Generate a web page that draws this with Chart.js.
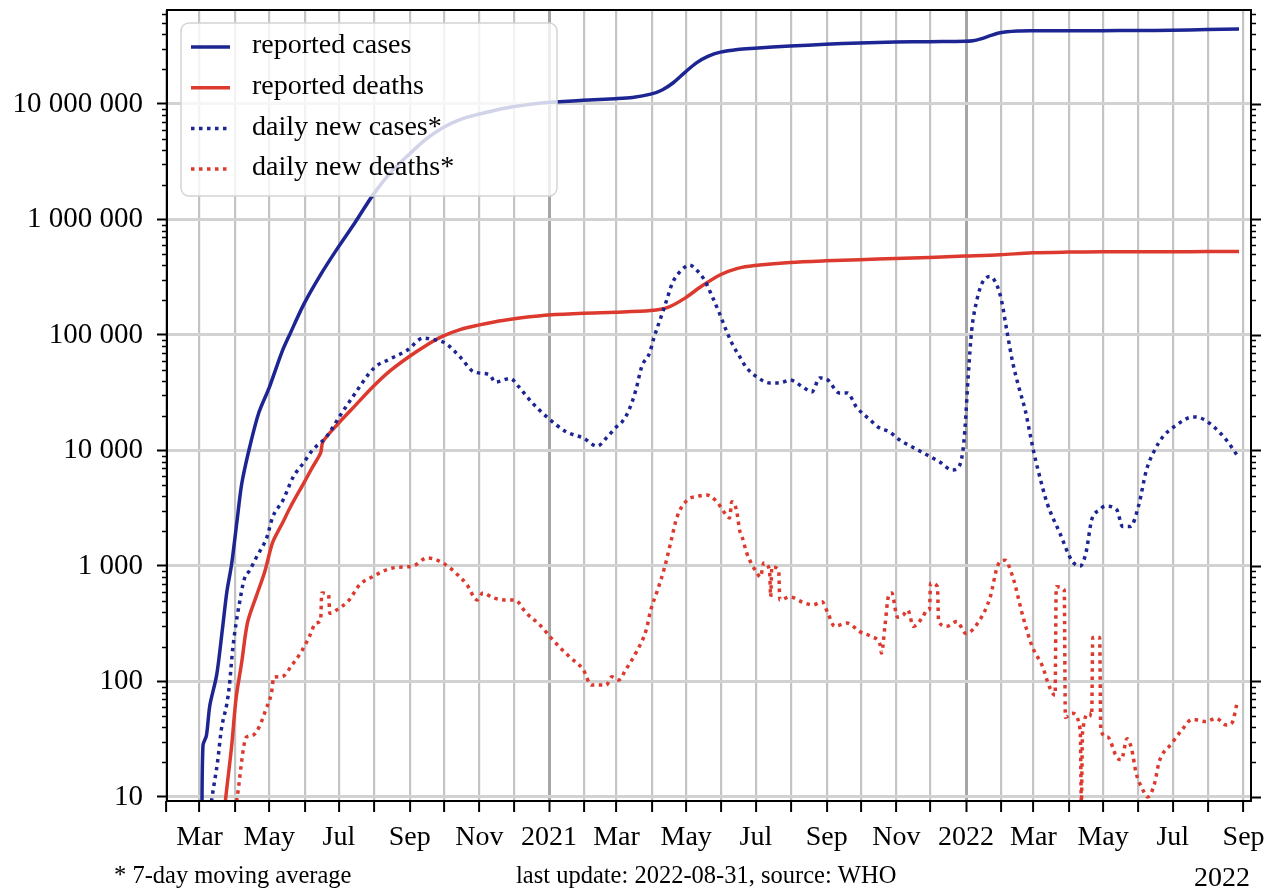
<!DOCTYPE html>
<html>
<head>
<meta charset="utf-8">
<script src="https://cdn.jsdelivr.net/npm/chart.js@4.4.0/dist/chart.umd.min.js"></script>
<style>
  html, body { margin: 0; padding: 0; background: #fff; }
  #chart { display: block; }
</style>
</head>
<body>
<canvas id="chart" width="1278" height="894"></canvas>
<script>
'use strict';
// reported cases (cumulative)
var casesDates = ['2020-03-03', '2020-03-04', '2020-03-07', '2020-03-10', '2020-03-16', '2020-03-21', '2020-03-25',
    '2020-03-29', '2020-04-03', '2020-04-07', '2020-04-14', '2020-04-22', '2020-05-01', '2020-05-12', '2020-05-19',
    '2020-05-31', '2020-06-15', '2020-06-30', '2020-07-15', '2020-07-31', '2020-08-15', '2020-08-31', '2020-09-15',
    '2020-09-30', '2020-10-15', '2020-10-31', '2020-11-15', '2020-11-30', '2020-12-15', '2020-12-31', '2021-01-31',
    '2021-02-28', '2021-03-15', '2021-03-31', '2021-04-10', '2021-04-20', '2021-04-30', '2021-05-10', '2021-05-20',
    '2021-05-31', '2021-06-15', '2021-06-30', '2021-07-31', '2021-08-31', '2021-09-30', '2021-10-31', '2021-11-30',
    '2021-12-31', '2022-01-07', '2022-01-14', '2022-01-21', '2022-01-31', '2022-02-15', '2022-02-28', '2022-03-31',
    '2022-04-30', '2022-05-31', '2022-06-30', '2022-07-31', '2022-08-28'];
var casesValues = [5, 28, 34, 62, 114, 283, 606,
    1024, 2547, 5194, 10815, 21393, 35043, 70756, 101139,
    182143, 332424, 566840, 936181, 1638870, 2526192, 3621245, 4930236,
    6225763, 7307097, 8137119, 8814579, 9431691, 9906165, 10266674, 10746183,
    11096731, 11385339, 12149335, 13205926, 15321089, 18762976, 22662575, 25772440,
    28047534, 29633105, 30362848, 31655824, 32810845, 33739980, 34285814, 34587822,
    34838804, 35226386, 36582129, 38566027, 41302440, 42665534, 42929564, 43024440,
    43079188, 43160832, 43459809, 44000138, 44415723];

// reported deaths (cumulative)
var deathsDates = ['2020-03-12', '2020-03-20', '2020-03-24', '2020-03-29', '2020-04-02', '2020-04-07', '2020-04-12', '2020-04-20',
    '2020-04-27', '2020-05-04', '2020-05-12', '2020-05-20', '2020-05-31', '2020-06-08', '2020-06-15', '2020-06-17',
    '2020-06-30', '2020-07-15', '2020-07-31', '2020-08-15', '2020-08-31', '2020-09-15', '2020-09-30', '2020-10-15',
    '2020-10-31', '2020-11-15', '2020-11-30', '2020-12-15', '2020-12-31', '2021-01-31', '2021-02-28', '2021-03-31',
    '2021-04-15', '2021-04-30', '2021-05-15', '2021-05-31', '2021-06-15', '2021-06-30', '2021-07-31', '2021-08-31',
    '2021-09-30', '2021-10-31', '2021-11-30', '2021-12-31', '2022-01-31', '2022-02-28', '2022-03-31', '2022-04-30',
    '2022-05-31', '2022-06-30', '2022-07-31', '2022-08-28'];
var deathsValues = [1, 4, 10, 27, 72, 149, 324, 559,
    886, 1600, 2293, 3303, 5164, 7200, 9520, 11903,
    16893, 24309, 35747, 49036, 64469, 80776, 97497, 111266,
    121641, 130070, 137139, 143355, 148738, 154274, 157051, 162468,
    173123, 208330, 266207, 331895, 377031, 399459, 424351, 438560,
    448339, 458437, 468790, 481080, 494091, 513843, 521129, 523693,
    524692, 525116, 526258, 527416];

// daily new cases, 7-day moving average
var dailyCasesDates = ['2020-03-05', '2020-03-12', '2020-03-17', '2020-03-20', '2020-03-25', '2020-03-27', '2020-03-30', '2020-04-02',
    '2020-04-05', '2020-04-09', '2020-04-14', '2020-04-20', '2020-04-29', '2020-05-04', '2020-05-13', '2020-05-22',
    '2020-05-31', '2020-06-08', '2020-06-20', '2020-07-02', '2020-07-13', '2020-08-01', '2020-08-15', '2020-08-30',
    '2020-09-13', '2020-09-20', '2020-10-02', '2020-10-16', '2020-10-27', '2020-11-10', '2020-11-15', '2020-11-28',
    '2020-12-05', '2020-12-17', '2020-12-30', '2021-01-16', '2021-01-31', '2021-02-12', '2021-02-21', '2021-03-01',
    '2021-03-06', '2021-03-12', '2021-03-18', '2021-03-23', '2021-03-30', '2021-04-03', '2021-04-09', '2021-04-14',
    '2021-04-19', '2021-04-27', '2021-05-04', '2021-05-10', '2021-05-17', '2021-05-24', '2021-05-30', '2021-06-05',
    '2021-06-10', '2021-06-17', '2021-06-23', '2021-07-02', '2021-07-13', '2021-07-22', '2021-07-31', '2021-08-11',
    '2021-08-19', '2021-08-26', '2021-09-02', '2021-09-12', '2021-09-19', '2021-09-27', '2021-10-09', '2021-10-17',
    '2021-10-26', '2021-11-04', '2021-11-15', '2021-11-28', '2021-12-09', '2021-12-20', '2021-12-25', '2021-12-29',
    '2021-12-31', '2022-01-03', '2022-01-06', '2022-01-10', '2022-01-15', '2022-01-22', '2022-01-28', '2022-02-01',
    '2022-02-06', '2022-02-11', '2022-02-16', '2022-02-22', '2022-02-26', '2022-03-01', '2022-03-05', '2022-03-13',
    '2022-03-24', '2022-04-04', '2022-04-11', '2022-04-16', '2022-04-21', '2022-04-28', '2022-05-03', '2022-05-13',
    '2022-05-18', '2022-05-25', '2022-06-01', '2022-06-08', '2022-06-15', '2022-06-22', '2022-07-02', '2022-07-19',
    '2022-07-26', '2022-08-06', '2022-08-17', '2022-08-26'];
var dailyCasesValues = [3, 10, 21, 38, 65, 90, 190, 320,
    480, 760, 920, 1200, 1780, 2650, 3700, 5900,
    7800, 10100, 13100, 20000, 29000, 52000, 62000, 74000,
    94000, 92000, 85000, 63000, 48000, 45000, 39000, 42000,
    36000, 26000, 19500, 14500, 12800, 10900, 13100, 16000,
    17700, 22400, 33400, 52800, 69800, 96000, 143000, 201000,
    282000, 365000, 403000, 365000, 299000, 213000, 155000, 110000,
    85000, 64500, 51800, 43300, 38400, 38400, 40700, 35500,
    32100, 42400, 40700, 31500, 31500, 23800, 18400, 15700,
    14500, 12300, 10700, 9140, 7950, 6780, 7050, 9500,
    15000, 45000, 110000, 190000, 280000, 320000, 270000, 200000,
    105000, 57000, 36000, 22000, 14000, 10000, 6800, 3500,
    1940, 1100, 1000, 1300, 2500, 3060, 3300, 3060,
    2200, 2200, 3300, 6800, 10000, 13000, 16000, 19500,
    19000, 16000, 12300, 9200];

// daily new deaths, 7-day moving average
var dailyDeathsDates = ['2020-03-20', '2020-04-03', '2020-04-11', '2020-04-16', '2020-04-22', '2020-04-28', '2020-05-03', '2020-05-05',
    '2020-05-12', '2020-05-21', '2020-05-30', '2020-06-05', '2020-06-11', '2020-06-15', '2020-06-16', '2020-06-22',
    '2020-06-23', '2020-06-29', '2020-07-10', '2020-07-19', '2020-07-30', '2020-08-17', '2020-09-04', '2020-09-16',
    '2020-09-30', '2020-10-15', '2020-10-21', '2020-10-30', '2020-11-04', '2020-11-13', '2020-11-25', '2020-12-02',
    '2020-12-12', '2020-12-24', '2021-01-02', '2021-01-10', '2021-01-19', '2021-01-31', '2021-02-07', '2021-02-20',
    '2021-02-25', '2021-03-03', '2021-03-09', '2021-03-18', '2021-03-27', '2021-03-31', '2021-04-06', '2021-04-12',
    '2021-04-18', '2021-04-23', '2021-05-02', '2021-05-11', '2021-05-19', '2021-05-28', '2021-06-05', '2021-06-08',
    '2021-06-10', '2021-06-14', '2021-06-17', '2021-06-19', '2021-06-23', '2021-07-02', '2021-07-05', '2021-07-08',
    '2021-07-13', '2021-07-14', '2021-07-15', '2021-07-21', '2021-07-22', '2021-07-31', '2021-08-10', '2021-08-20',
    '2021-08-28', '2021-09-02', '2021-09-08', '2021-09-19', '2021-09-30', '2021-10-11', '2021-10-18', '2021-10-19',
    '2021-10-22', '2021-10-25', '2021-10-28', '2021-11-02', '2021-11-07', '2021-11-11', '2021-11-16', '2021-11-24',
    '2021-11-28', '2021-11-30', '2021-12-01', '2021-12-07', '2021-12-08', '2021-12-15', '2021-12-24', '2022-01-01',
    '2022-01-13', '2022-01-22', '2022-01-29', '2022-02-04', '2022-02-11', '2022-02-20', '2022-02-28', '2022-03-09',
    '2022-03-15', '2022-03-20', '2022-03-21', '2022-03-28', '2022-03-29', '2022-04-04', '2022-04-11', '2022-04-12',
    '2022-04-13', '2022-04-19', '2022-04-21', '2022-04-22', '2022-04-28', '2022-04-29', '2022-05-05', '2022-05-13',
    '2022-05-17', '2022-05-22', '2022-05-26', '2022-05-30', '2022-06-04', '2022-06-09', '2022-06-15', '2022-06-19',
    '2022-06-30', '2022-07-09', '2022-07-18', '2022-07-30', '2022-08-08', '2022-08-17', '2022-08-22', '2022-08-26'];
var dailyDeathsValues = [1, 10, 33, 34, 40, 57, 80, 109,
    110, 139, 187, 243, 321, 340, 584, 560,
    390, 416, 508, 685, 803, 961, 1000, 1172,
    1061, 803, 690, 508, 584, 530, 508, 508,
    392, 308, 243, 199, 163, 126, 93, 93,
    110, 103, 126, 177, 279, 416, 620, 961,
    1680, 2655, 3726, 4000, 4120, 3580, 2767, 2600,
    3600, 3057, 2000, 1782, 1297, 869, 803, 1061,
    920, 540, 980, 920, 508, 540, 490, 460,
    490, 392, 300, 320, 270, 243, 205, 176,
    300, 540, 584, 360, 375, 415, 300, 360,
    415, 420, 710, 660, 330, 300, 330, 260,
    340, 530, 1020, 1120, 800, 360, 200, 135,
    90, 76, 660, 620, 49, 53, 38, 9,
    36, 53, 50, 240, 240, 38, 33, 22,
    21, 32, 26, 16, 12, 10, 13, 20,
    29, 38, 47, 45, 48, 42, 44, 63];

var seriesLabels = ['reported cases', 'reported deaths', 'daily new cases*', 'daily new deaths*'];
var yTickValues = [10, 100, 1000, 10000, 100000, 1000000, 10000000];
var monthNames = ['Jan', 'Feb', 'Mar', 'Apr', 'May', 'Jun', 'Jul', 'Aug', 'Sep', 'Oct', 'Nov', 'Dec'];
var footnoteText = '* 7-day moving average';
var sourceText = 'last update: 2022-08-31, source: WHO';
var offsetText = '2022';

var blue = '#1c2592';
var red = '#dc3a2f';
var serif = "'Liberation Serif', 'Times New Roman', serif";
var dots = [3.5, 4.5];

var xMin = Date.UTC(2020, 1, 1, 12);
var xMax = Date.UTC(2022, 8, 7, 12);
var yMin = 9.23;
var yMax = 6.5e7;

function toPoints(dates, values) {
    var pts = [];
    for (var i = 0; i < dates.length; i++) {
        pts.push({ x: Date.parse(dates[i] + 'T00:00:00Z'), y: values[i] });
    }
    return pts;
}

// tick at every first of month
var monthTicks = [];
for (var yr = 2020; yr <= 2022; yr++) {
    for (var m = 0; m < 12; m++) {
        var t = Date.UTC(yr, m, 1);
        if (t >= xMin - 86400000 && t <= xMax) monthTicks.push(t);
    }
}

function monthLabel(value) {
    var d = new Date(value);
    var mo = d.getUTCMonth();
    if (mo % 2 !== 0) return '';
    if (mo === 0) return String(d.getUTCFullYear());
    return monthNames[mo];
}

function spaced(v) {
    return String(v).replace(/\B(?=(\d{3})+(?!\d))/g, ' ');
}

function isJanuary(ctx) {
    return ctx.tick && new Date(ctx.tick.value).getUTCMonth() === 0;
}

// spines, minor ticks, legend and footnotes
var decorPlugin = {
    id: 'decor',
    afterDraw: function (chart) {
        var ctx = chart.ctx;
        var area = chart.chartArea;
        var yScale = chart.scales.y;
        ctx.save();

        // minor ticks on both sides, major ticks on the right
        ctx.strokeStyle = '#000';
        for (var p = 1; p <= 7; p++) {
            var dec = Math.pow(10, p);
            for (var k = 1; k <= 9; k++) {
                var v = k * dec;
                if (v < yMin || v > yMax) continue;
                var py = Math.round(yScale.getPixelForValue(v)) + 0.5;
                var len = k === 1 ? 10 : 5;
                ctx.lineWidth = k === 1 ? 2 : 1.5;
                ctx.beginPath();
                if (k !== 1) {
                    ctx.moveTo(area.left - len, py);
                    ctx.lineTo(area.left, py);
                }
                ctx.moveTo(area.right, py);
                ctx.lineTo(area.right + len, py);
                ctx.stroke();
            }
        }

        // frame
        ctx.lineWidth = 2;
        ctx.strokeRect(area.left, area.top, area.right - area.left, area.bottom - area.top);

        // legend
        var bx = area.left + 14, by = area.top + 13, bw = 376, bh = 173, r = 8;
        ctx.beginPath();
        ctx.moveTo(bx + r, by);
        ctx.lineTo(bx + bw - r, by);
        ctx.arcTo(bx + bw, by, bx + bw, by + r, r);
        ctx.lineTo(bx + bw, by + bh - r);
        ctx.arcTo(bx + bw, by + bh, bx + bw - r, by + bh, r);
        ctx.lineTo(bx + r, by + bh);
        ctx.arcTo(bx, by + bh, bx, by + bh - r, r);
        ctx.lineTo(bx, by + r);
        ctx.arcTo(bx, by, bx + r, by, r);
        ctx.closePath();
        ctx.fillStyle = 'rgba(255,255,255,0.8)';
        ctx.fill();
        ctx.strokeStyle = '#d4d4d4';
        ctx.lineWidth = 1.5;
        ctx.stroke();

        var sets = chart.data.datasets;
        ctx.font = '28px ' + serif;
        ctx.textBaseline = 'middle';
        ctx.textAlign = 'left';
        for (var i = 0; i < sets.length; i++) {
            var ry = by + 24 + i * 40.7;
            ctx.beginPath();
            ctx.strokeStyle = sets[i].borderColor;
            ctx.lineWidth = sets[i].borderWidth;
            ctx.setLineDash(sets[i].borderDash || []);
            ctx.moveTo(bx + 10, ry);
            ctx.lineTo(bx + 49, ry);
            ctx.stroke();
            ctx.setLineDash([]);
            ctx.fillStyle = '#000';
            ctx.fillText(sets[i].label, bx + 71, ry - 1);
        }

        // footnotes
        ctx.textBaseline = 'alphabetic';
        ctx.font = '24.5px ' + serif;
        ctx.fillText(footnoteText, 114, 883);
        ctx.fillText(sourceText, 516, 883);
        ctx.font = '28px ' + serif;
        ctx.textAlign = 'right';
        ctx.fillText(offsetText, 1250, 886);
        ctx.restore();
    }
};

new Chart(document.getElementById('chart'), {
    type: 'line',
    data: {
        datasets: [{
            label: seriesLabels[0],
            data: toPoints(casesDates, casesValues),
            borderColor: blue,
            borderWidth: 3.5,
            cubicInterpolationMode: 'default',
            tension: 0.3,
            order: 4
        }, {
            label: seriesLabels[1],
            data: toPoints(deathsDates, deathsValues),
            borderColor: red,
            borderWidth: 3.5,
            cubicInterpolationMode: 'default',
            tension: 0.3,
            order: 3
        }, {
            label: seriesLabels[2],
            data: toPoints(dailyCasesDates, dailyCasesValues),
            borderColor: blue,
            borderWidth: 3.5,
            borderDash: dots,
            order: 2
        }, {
            label: seriesLabels[3],
            data: toPoints(dailyDeathsDates, dailyDeathsValues),
            borderColor: red,
            borderWidth: 3.5,
            borderDash: dots,
            order: 1
        }]
    },
    options: {
        responsive: false,
        animation: false,
        devicePixelRatio: 1,
        layout: { padding: { left: 0, right: 27, top: 10, bottom: 0 } },
        elements: {
            point: { radius: 0, hoverRadius: 0 },
            line: { cubicInterpolationMode: 'monotone', borderCapStyle: 'butt', fill: false }
        },
        plugins: {
            legend: { display: false },
            tooltip: { enabled: false }
        },
        scales: {
            x: {
                type: 'linear',
                min: xMin,
                max: xMax,
                afterBuildTicks: function (scale) {
                    scale.ticks = monthTicks.map(function (v) { return { value: v }; });
                },
                afterFit: function (scale) {
                    scale.height = 93;
                    scale.paddingLeft = 0;
                    scale.paddingRight = 0;
                },
                ticks: {
                    autoSkip: false,
                    maxRotation: 0,
                    minRotation: 0,
                    padding: 9,
                    color: '#000',
                    font: { family: serif, size: 28 },
                    callback: function (value) { return monthLabel(value); }
                },
                grid: {
                    color: function (ctx) { return isJanuary(ctx) ? '#a6a6a6' : '#c4c4c4'; },
                    lineWidth: function (ctx) { return isJanuary(ctx) ? 3 : 2.2; },
                    tickColor: '#000',
                    tickLength: 11,
                    tickWidth: 2
                },
                border: { display: false }
            },
            y: {
                type: 'logarithmic',
                min: yMin,
                max: yMax,
                afterBuildTicks: function (scale) {
                    scale.ticks = yTickValues.map(function (v) { return { value: v }; });
                },
                afterFit: function (scale) {
                    scale.width = 167;
                    scale.paddingTop = 0;
                    scale.paddingBottom = 0;
                },
                ticks: {
                    autoSkip: false,
                    padding: 14,
                    color: '#000',
                    font: { family: serif, size: 29 },
                    callback: function (value) { return spaced(value); }
                },
                grid: {
                    color: '#d2d2d2',
                    lineWidth: 3,
                    tickColor: '#000',
                    tickLength: 10,
                    tickWidth: 2
                },
                border: { display: false }
            }
        }
    },
    plugins: [decorPlugin]
});
</script>
</body>
</html>
